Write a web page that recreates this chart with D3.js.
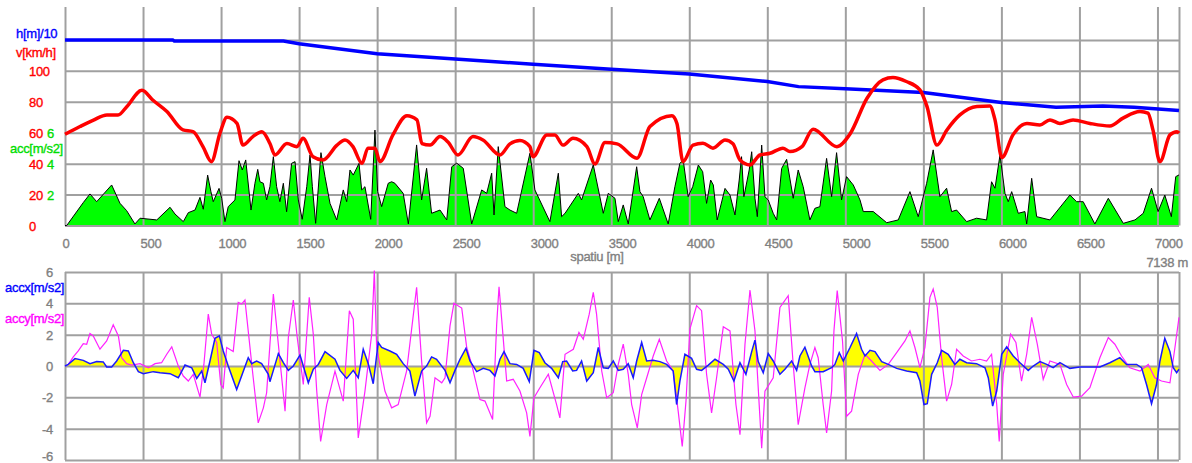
<!DOCTYPE html>
<html>
<head>
<meta charset="utf-8">
<script src="https://cdn.jsdelivr.net/npm/d3@7"></script>
<style>
  body { margin: 0; background: #fff; }
  svg text { font-family: "Liberation Sans", Arial, sans-serif; font-size: 13px; letter-spacing: -0.3px; stroke-width: 0.35px; }
</style>
</head>
<body>
<svg id="svg" width="1192" height="463"></svg>
<script>
// ==== Data (distance in m)

var totalDist = 7138;
var distTicks = d3.range(0, 7001, 500);
var speedTicks = [0, 20, 40, 60, 80, 100];
var speedGrid = [0, 20, 40, 60, 80, 100, 120];
var accTicks = [2, 4, 6];
var accxyTicks = [-6, -4, -2, 0, 2, 4, 6];

// altitude h [m]
var altitude = [[0,1200],[690,1200],[700,1193],[1400,1193],[1500,1175],[2000,1110],[2500,1076],[3000,1043],
  [3500,1011],[4000,979],[4500,931],[4700,898],[5000,885],[5500,860],[6000,795],[6350,765],[6650,772],
  [6850,765],[7138,743]];

// v [km/h]
var speed = [[0,59],[96,64],[179,68],[269,71.5],[340,71.5],[397,77],[493,87.5],[564,81],[653,73.7],[756,61.8],
  [820,60.7],[884,51],[938,41.3],[993,59.7],[1038,70],[1102,66],[1140,52],[1204,57.5],[1262,60.7],[1313,53],
  [1345,45.6],[1422,53],[1486,51],[1525,56.4],[1589,44.5],[1653,42.4],[1743,52],[1794,55.3],[1845,51],
  [1903,40.2],[1941,50],[1986,50],[2018,41.3],[2101,58.6],[2191,71],[2255,68.3],[2287,53],[2339,52],
  [2403,57.5],[2454,54],[2518,45.6],[2614,57.5],[2678,55.3],[2787,45.6],[2851,52.8],[2915,55],[2979,51],
  [2998,44.5],[3088,58.6],[3139,58.6],[3191,52],[3255,56.4],[3344,51],[3396,39.8],[3460,53.6],[3537,52.8],
  [3665,43.5],[3748,64],[3889,71],[3921,66],[3960,41.3],[4024,52],[4088,53.2],[4152,50],[4229,55.3],
  [4280,52.8],[4325,42.4],[4389,39.2],[4453,45.6],[4517,46.7],[4600,50],[4645,47.8],[4722,51],[4793,62.3],
  [4946,51],[5030,59.2],[5139,82.3],[5241,94.2],[5305,95.7],[5391,93.1],[5478,87.7],[5523,77],[5587,52],
  [5651,61.8],[5734,71.5],[5843,77],[5926,77.3],[5959,68.3],[6003,44],[6074,58.6],[6164,66],[6247,65],
  [6311,68.3],[6375,66],[6459,68.3],[6567,66],[6695,64.4],[6779,69.4],[6888,73.7],[6939,72.6],[6971,61.8],
  [7016,41.3],[7080,58.6],[7125,60.7],[7138,59.7]];

// acc [m/s2]
var acc = [[0,0],[11,0],[117,1.48],[160,2.04],[203,1.54],[299,2.62],[352,1.44],[395,0.96],[448,0.1],[481,0.47],
  [588,0.36],[673,1.18],[705,0.74],[758,0.25],[790,0.83],[833,1.0],[865,1.82],[886,1.05],[914,3.26],
  [935,2.19],[950,1.54],[987,2.4],[1004,1.76],[1025,0.25],[1046,1.22],[1089,1.65],[1115,4.19],[1136,3.59],
  [1158,4.24],[1192,1.0],[1217,2.73],[1235,3.63],[1249,2.83],[1271,2.73],[1292,1.65],[1313,2.51],[1335,4.45],
  [1356,2.51],[1377,1.54],[1399,2.73],[1420,0.89],[1452,4.02],[1474,4.13],[1495,1.65],[1520,0.4],[1549,2.51],
  [1570,4.56],[1585,2.51],[1606,0.14],[1640,4.71],[1666,3.16],[1698,1.43],[1741,0.36],[1783,2.3],[1805,1.54],
  [1826,3.59],[1847,3.26],[1884,4.02],[1901,2.3],[1922,2.51],[1959,0.4],[1986,6.17],[2003,2.19],[2029,1.22],
  [2071,2.73],[2093,2.83],[2114,2.73],[2167,2.08],[2200,0.1],[2253,5.21],[2285,1.65],
  [2317,3.7],[2349,0.79],[2403,1.0],[2446,0.36],[2478,3.8],[2510,4.03],[2552,3.7],[2606,0.1],[2670,2.3],
  [2702,2.08],[2734,3.38],[2749,0.68],[2776,5.1],[2819,1.22],[2851,1.0],[2894,0.79],[2979,4.67],[3011,2.3],
  [3107,0.25],[3161,3.38],[3182,0.57],[3204,0.79],[3289,2.08],[3310,1.65],[3385,3.92],[3449,0.79],[3481,2.08],
  [3524,1.76],[3545,0.25],[3577,1.33],[3609,0.1],[3663,3.8],[3684,2.19],[3705,1.86],[3748,0.36],[3808,1.76],
  [3865,0.1],[3908,2.51],[3940,4.02],[3961,4.24],[3993,1.86],[4022,2.51],[4058,3.91],[4086,3.48],[4111,1.43],
  [4137,2.94],[4154,2.62],[4179,0.36],[4229,2.4],[4261,1.97],[4293,0.68],[4320,2.94],[4335,4.45],[4350,1.86],
  [4384,3.59],[4400,4.77],[4421,1.76],[4436,0.57],[4464,5.2],[4485,1.86],[4506,1.65],[4538,0.79],[4560,0.36],
  [4592,3.69],[4624,4.28],[4666,1.76],[4698,3.59],[4730,2.51],[4773,0.36],[4805,1.11],[4837,1.22],[4880,4.34],
  [4912,1.86],[4944,4.71],[4976,1.65],[5008,3.16],[5051,2.62],[5094,1.65],
  [5115,0.9],[5179,0.9],[5265,0.18],[5339,0.36],[5414,2.19],[5467,0.57],[5521,2.73],[5563,4.89],
  [5606,1.86],[5649,2.41],[5681,0.9],[5713,1.0],[5777,0.25],[5841,0.47],[5905,0.36],[5937,2.83],[5959,2.41],
  [5991,4.56],[6023,2.08],[6044,1.54],[6066,2.19],[6108,0.79],[6151,0.9],[6162,0.1],[6194,3.05],[6226,0.57],
  [6311,0.36],[6439,1.97],[6482,1.54],[6524,1.54],[6599,0.1],[6685,1.76],[6781,0.14],[6856,0.36],[6909,0.79],
  [6962,2.41],[7004,0.9],[7047,1.97],[7089,0.57],[7117,3.16],[7138,3.27]];

// accx [m/s2]
var accx = [[0,0],[21,0.1],[64,0.47],[117,0.36],[160,0.15],[203,0.28],[245,0.26],[267,-0.06],[299,-0.06],
  [331,0.32],[374,1.0],[406,0.96],[438,0.21],[470,-0.36],[502,-0.49],[566,-0.36],[609,-0.43],[673,-0.49],
  [726,-0.75],[769,0.06],[812,-0.11],[844,-0.79],[876,-0.32],[897,-1.07],[929,0.32],[961,1.77],[989,1.92],
  [1014,0.96],[1046,0],[1100,-1.5],[1139,-0.43],[1174,0.53],[1196,0.15],[1228,0.32],[1260,0.15],[1303,-0.53],
  [1313,-1.0],[1335,-0.28],[1367,0.79],[1399,0.21],[1431,-0.28],[1463,0],[1506,0.7],[1559,-1.07],[1591,-0.21],
  [1623,0.1],[1666,0.92],[1730,0.43],[1762,-0.28],[1805,-0.79],[1847,-0.28],[1879,-0.75],[1911,1.07],
  [1943,0.15],[1975,-1.13],[2007,1.5],[2029,1.18],[2082,0.96],[2125,0.75],[2167,0.15],[2210,-0.32],
  [2242,-1.92],[2285,-0.32],[2317,0],[2349,0.58],[2381,0.43],[2435,-0.28],[2467,-1.07],[2499,-0.28],
  [2531,0.43],[2569,1.13],[2595,0.32],[2638,-0.36],[2680,-0.15],[2723,-0.28],[2755,-0.64],[2787,0.43],
  [2813,0.92],[2851,0.15],[2894,0.1],[2936,-0.15],[2975,-1.0],[3005,1.0],[3039,0.85],[3075,0.21],[3118,-0.15],
  [3161,-0.75],[3189,0.28],[3214,0.32],[3253,-0.32],[3278,-0.28],[3310,0.32],[3343,-0.96],[3385,-0.43],
  [3417,1.18],[3449,-0.11],[3481,-0.15],[3513,0.32],[3545,-0.28],[3577,-0.21],[3609,0.15],[3641,-0.75],
  [3663,0.32],[3695,1.5],[3727,0.32],[3769,0.36],[3812,0.28],[3855,0.1],[3897,-0.32],[3919,-2.46],[3940,-0.96],
  [3972,0.75],[4015,0.49],[4047,-0.21],[4079,-0.28],[4122,0.06],[4165,0.43],[4218,0.1],[4250,-0.21],
  [4286,-0.96],[4325,0.21],[4363,-0.53],[4400,0.92],[4421,1.65],[4442,0.28],[4474,-0.43],[4506,0.79],
  [4538,0.32],[4581,-0.53],[4613,-0.21],[4656,0.32],[4688,-0.28],[4709,0.64],[4741,1.2],[4784,0],[4805,-0.36],
  [4858,-0.36],[4912,-0.11],[4933,0.1],[4961,0.85],[4987,0.32],[5030,1.18],[5072,2.07],[5104,1.07],[5126,0.64],
  [5158,1.0],[5190,0.92],[5233,0.28],[5275,0.1],[5329,-0.15],[5393,-0.32],[5457,-0.43],[5478,-0.96],
  [5504,-2.46],[5525,-2.41],[5553,-0.53],[5589,0.21],[5617,1.0],[5659,0.75],[5702,0.1],[5734,0.43],
  [5777,0.21],[5841,0.15],[5895,-0.11],[5916,-0.75],[5944,-2.56],[5970,-1.6],[6002,0.75],[6034,1.22],
  [6076,0.64],[6119,0.21],[6172,-0.28],[6204,0],[6247,0.28],[6290,0.1],[6332,-0.11],[6375,0.21],[6439,-0.15],
  [6503,-0.06],[6567,-0.06],[6631,-0.06],[6695,0.21],[6759,0.53],[6802,0.1],[6866,0.1],[6898,-0.11],
  [6930,-1.18],[6962,-2.41],[6994,-1.18],[7016,0.32],[7047,1.77],[7080,0.92],[7101,-0.11],[7123,-0.43],
  [7138,-0.21]];

// accy [m/s2]
var accy = [[0,0],[21,0.1],[53,0.58],[85,0.96],[117,1.43],[139,1.39],[160,2.07],[181,1.92],[224,1.07],
  [267,1.6],[309,2.63],[342,1.92],[363,0.53],[395,0.15],[427,0.06],[481,0.15],[534,-0.11],[577,0.15],
  [619,0.21],[652,0.75],[684,1.22],[726,0],[758,-0.64],[790,-0.96],[822,-0.53],[865,-1.99],[890,0.1],
  [918,3.31],[940,2.03],[972,1.5],[998,-1.18],[1014,-1.39],[1036,1.18],[1078,0.92],[1110,4.06],[1132,3.95],
  [1153,4.21],[1174,2.24],[1206,-0.75],[1238,-3.63],[1271,-2.67],[1292,-1.71],[1335,4.59],[1367,1.39],
  [1410,-2.88],[1431,1.82],[1463,4.21],[1488,1.82],[1527,-1.18],[1565,4.38],[1591,2.03],[1613,-1.6],
  [1638,-4.81],[1677,-2.46],[1730,-0.32],[1783,-2.24],[1822,3.53],[1847,2.99],[1879,-4.59],[1922,-1.6],
  [1965,2.03],[1982,6.09],[1997,1.18],[2050,-1.6],[2093,-2.67],[2135,-2.46],[2189,-0.32],[2253,5.02],
  [2285,0.32],[2317,-3.63],[2339,-3.21],[2371,-0.75],[2414,-1.07],[2435,-0.75],[2467,2.56],[2492,4.0],
  [2542,3.7],[2574,1.18],[2606,0.1],[2659,-2.14],[2691,-2.24],[2740,-3.42],[2766,2.67],[2781,5.06],
  [2798,2.99],[2830,-0.96],[2872,-0.85],[2915,-1.6],[2958,-2.99],[2979,-4.49],[3005,-2.03],[3043,-1.39],
  [3097,-0.53],[3150,-2.46],[3171,-3.31],[3204,0.75],[3257,1.07],[3293,2.14],[3321,1.71],[3359,3.31],
  [3385,4.7],[3406,3.31],[3439,-0.32],[3471,-2.03],[3513,-1.71],[3545,0.1],[3577,1.39],[3609,-0.53],
  [3631,-2.46],[3667,-3.95],[3695,-1.82],[3737,-0.43],[3769,0.64],[3808,1.71],[3855,0.32],[3897,-0.32],
  [3929,-2.88],[3955,-5.13],[3979,-2.24],[4004,2.35],[4047,3.85],[4079,3.53],[4111,-0.53],[4143,-2.99],
  [4175,-0.75],[4218,2.5],[4261,2.24],[4299,-2.46],[4325,-4.38],[4357,1.39],[4389,4.85],[4421,2.24],
  [4464,-5.24],[4485,-1.6],[4538,-0.75],[4581,3.74],[4634,4.49],[4666,0.1],[4698,-3.74],[4741,-1.4],
  [4773,0.1],[4805,1.18],[4826,0.53],[4858,-2.46],[4880,-4.27],[4912,-1.6],[4927,2.24],[4948,4.81],
  [4966,3.1],[4982,1.6],[5008,-3.21],[5040,-2.88],[5083,-0.53],[5126,0.75],[5168,0.32],[5222,-0.28],
  [5275,0.1],[5329,0.85],[5382,1.6],[5414,2.24],[5446,1.18],[5478,-0.11],[5510,1.18],[5542,4.38],
  [5563,4.91],[5589,3.74],[5617,0.53],[5649,-2.24],[5681,-1.18],[5713,1.07],[5755,0.64],[5809,0.32],
  [5862,0.43],[5905,0.32],[5937,0.75],[5970,-2.46],[5986,-4.81],[6012,-0.53],[6059,2.03],[6093,1.5],
  [6129,-0.96],[6162,0.75],[6194,3.1],[6230,1.39],[6268,-0.85],[6311,0.32],[6375,0.1],[6418,-1.18],
  [6461,-1.99],[6514,-1.92],[6567,-1.39],[6631,0.53],[6685,1.82],[6727,1.39],[6770,0.64],[6823,-0.11],
  [6888,-0.32],[6941,0.1],[6983,-0.75],[7026,-0.96],[7080,-1.07],[7112,1.18],[7138,3.1]];

// ==== Layout

var svg = d3.select('#svg'),
    plotLeft = 65,
    plotRight = 1179,
    upper = { bottom: 225.5, top: 9, gridTop: 7 },
    lower = { bottom: 460, top: 272 },
    gridColor = '#a0a0a0',
    labelGrey = '#808080';

var x = d3.scaleLinear().domain([0, totalDist]).range([plotLeft, plotRight]);

// upper chart: speed, h/10 and acc*10 share one axis
var ySpeed = d3.scaleLinear().domain([0, 140]).range([upper.bottom, upper.top]);
var yH = d3.scaleLinear().domain([0, 1400]).range([upper.bottom, upper.top]);
var yAcc = d3.scaleLinear().domain([0, 14]).range([upper.bottom, upper.top]);
// lower chart
var yXY = d3.scaleLinear().domain([-6, 6]).range([lower.bottom, lower.top]);

drawUpper();
drawLower();

// ====================================================================================
// === Charts

function drawUpper () {
  var g = svg.append('g');

  g.append('path').datum(acc)
    .attr('fill', '#00ff00')
    .attr('d', d3.area().x(function (d) { return x(d[0]); })
      .y0(yAcc(0)).y1(function (d) { return yAcc(d[1]); }));

  drawGrid(g, ySpeed, speedGrid, upper.bottom, upper.gridTop);

  g.append('path').datum(acc)
    .attr('fill', 'none').attr('stroke', '#000').attr('stroke-width', 1)
    .attr('d', d3.line().x(function (d) { return x(d[0]); }).y(function (d) { return yAcc(d[1]); }));

  g.append('path').datum(altitude)
    .attr('fill', 'none').attr('stroke', '#0000ff').attr('stroke-width', 3.5)
    .attr('d', d3.line().x(function (d) { return x(d[0]); }).y(function (d) { return yH(d[1]); }));

  g.append('path').datum(speed)
    .attr('fill', 'none').attr('stroke', '#ff0000').attr('stroke-width', 3.5)
    .attr('stroke-linejoin', 'round')
    .attr('d', d3.line().curve(d3.curveMonotoneX)
      .x(function (d) { return x(d[0]); }).y(function (d) { return ySpeed(d[1]); }));

  // labels
  addText(g, 'h[m]/10', 16, 38, '#0000ff');
  addText(g, 'v[km/h]', 16, 57, '#ff0000');
  addText(g, 'acc[m/s2]', 10, 153, '#00dd00');

  g.selectAll('.speed-label').data(speedTicks).enter().append('text')
    .attr('x', 29).attr('y', function (d) { return ySpeed(d) + 5; })
    .attr('fill', '#ff0000').attr('stroke', '#ff0000').text(function (d) { return d; });

  g.selectAll('.acc-label').data(accTicks).enter().append('text')
    .attr('x', 47).attr('y', function (d) { return yAcc(d) + 5; })
    .attr('fill', '#00dd00').attr('stroke', '#00dd00').text(function (d) { return d; });

  // x axis labels
  g.append('g').attr('transform', 'translate(0,' + (upper.bottom + 2) + ')')
    .call(d3.axisBottom(x).tickValues(distTicks).tickSize(0).tickFormat(d3.format('d')))
    .call(function (a) {
      a.select('.domain').remove();
      a.selectAll('text').attr('text-anchor', 'start').attr('dx', -3).attr('dy', 0).attr('y', 20)
        .attr('fill', labelGrey).attr('stroke', labelGrey)
        .style('font-size', '13px').style('font-family', null);
    });

  addText(g, 'spatiu [m]', 597, 261, labelGrey).attr('text-anchor', 'middle');
  addText(g, totalDist + ' m', 1188, 267, labelGrey).attr('text-anchor', 'end');
}

function drawLower () {
  var g = svg.append('g');

  g.append('path').datum(accx)
    .attr('fill', '#ffff00')
    .attr('d', d3.area().x(function (d) { return x(d[0]); })
      .y0(yXY(0)).y1(function (d) { return yXY(d[1]); }));

  drawGrid(g, yXY, accxyTicks, lower.bottom, lower.top);

  g.append('path').datum(accy)
    .attr('fill', 'none').attr('stroke', '#ff22ff').attr('stroke-width', 1.2)
    .attr('d', d3.line().x(function (d) { return x(d[0]); }).y(function (d) { return yXY(d[1]); }));

  g.append('path').datum(accx)
    .attr('fill', 'none').attr('stroke', '#1a1aff').attr('stroke-width', 1.5)
    .attr('d', d3.line().x(function (d) { return x(d[0]); }).y(function (d) { return yXY(d[1]); }));

  // the lowest label sits on the bottom edge of the window
  g.selectAll('.xy-label').data(accxyTicks).enter().append('text')
    .attr('x', 53).attr('y', function (d) { return Math.min(yXY(d) + 5, 461); })
    .attr('text-anchor', 'end').attr('fill', labelGrey).attr('stroke', labelGrey)
    .text(function (d) { return d; });

  addText(g, 'accx[m/s2]', 5, 292, '#0000ff');
  addText(g, 'accy[m/s2]', 5, 323, '#ff00ff');
}

// ====================================================================================
// === Helpers

function drawGrid (g, yScale, yTicks, y0, y1) {
  // vertical lines every 500 m plus the right border
  g.append('g').attr('transform', 'translate(0,' + y0 + ')')
    .call(d3.axisBottom(x).tickValues(distTicks.concat([totalDist])).tickSize(-(y0 - y1)).tickFormat(''))
    .call(styleGrid);

  g.append('g').attr('transform', 'translate(' + plotLeft + ',0)')
    .call(d3.axisLeft(yScale).tickValues(yTicks).tickSize(-(plotRight - plotLeft)).tickFormat(''))
    .call(styleGrid);
}

function styleGrid (a) {
  a.select('.domain').remove();
  a.selectAll('line').attr('stroke', gridColor).attr('stroke-width', 2);
}

function addText (g, str, px, py, color) {
  return g.append('text').attr('x', px).attr('y', py)
    .attr('fill', color).attr('stroke', color).text(str);
}
</script>
</body>
</html>
